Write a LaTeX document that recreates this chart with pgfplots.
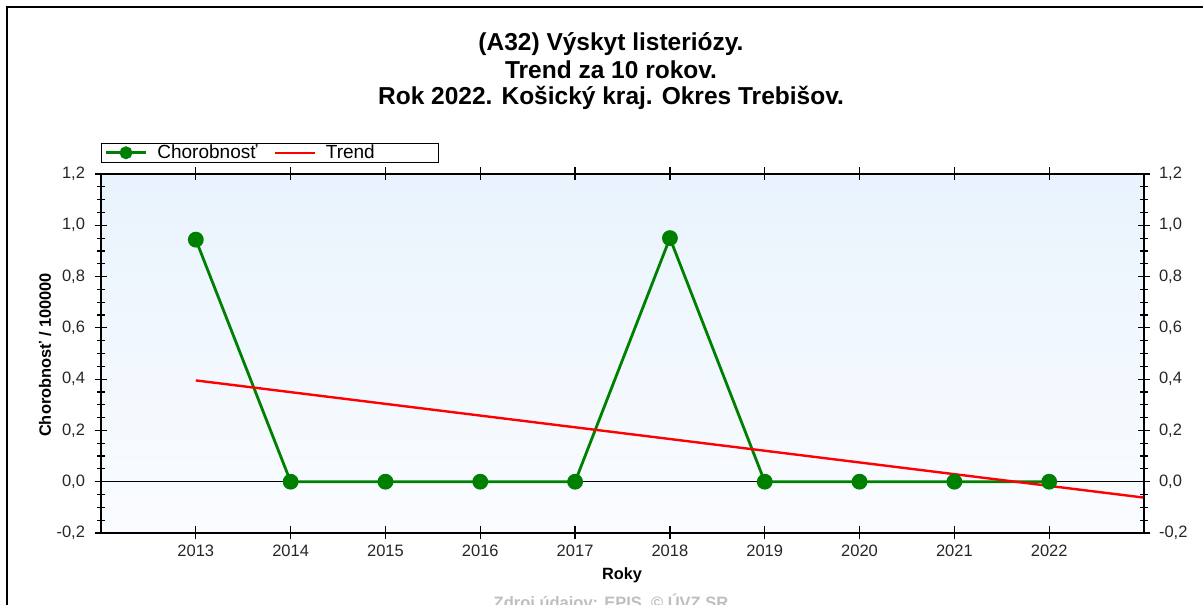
\documentclass[border=0pt]{standalone}
\usepackage{pgfplots}
\pgfplotsset{compat=1.18}
\usepackage{fontspec}
\setmainfont{Liberation Sans}
\definecolor{cgreen}{RGB}{0,128,0}
\definecolor{bgtop}{RGB}{233,243,253}
\definecolor{bgbot}{RGB}{250,252,255}
\definecolor{srcgray}{RGB}{190,190,190}
\begin{document}
\begin{tikzpicture}[x=1pt,y=1pt]
\useasboundingbox (0,0) rectangle (1203,605);
% outer frame
\draw[line width=1.5pt] (7,-20) -- (7,598) -- (1220,598);
% titles
\node[font=\bfseries\fontsize{24.5}{28}\selectfont] at (611,561) {(A32) Výskyt listeriózy.};
\node[font=\bfseries\fontsize{24.5}{28}\selectfont] at (611,535) {Trend za 10 rokov.};
\node[font=\bfseries\fontsize{24.5}{28}\selectfont] at (611,507) {Rok 2022. Košický kraj. Okres Trebišov.};
\node[font=\bfseries\fontsize{16.4}{19}\selectfont, rotate=90] at (45,250) {Chorobnosť / 100000};
\node[font=\bfseries\fontsize{16.3}{19}\selectfont] at (622,30) {Roky};
\node[font=\bfseries\fontsize{16.5}{19}\selectfont, text=srcgray, anchor=base] at (611,-4) {Zdroj údajov: EPIS, © ÚVZ SR};

\pgfplotsset{
  base/.style={
    scale only axis, width=1043pt, height=359pt,
    at={(101pt,72pt)}, anchor=south west,
    xmin=2012, xmax=2023, ymin=-0.2, ymax=1.2,
    ytick={-0.2,0,0.2,0.4,0.6,0.8,1.0,1.2},
    minor y tick num=3,
    tick align=center,
    major tick length=13pt, minor tick length=8pt,
    tick style={black, line width=1.2pt},
    axis line style={line width=1.4pt},
    tick label style={font=\fontsize{16.5}{19}\selectfont, text=black!85},
    /pgf/number format/assume math mode=true,
    yticklabel style={/pgf/number format/fixed, /pgf/number format/fixed zerofill,
        /pgf/number format/precision=1, /pgf/number format/use comma},
  }
}

\begin{axis}[
    base,
    axis background/.style={top color=bgtop, bottom color=bgbot},
    ytick pos=left, xtick pos=both,
    yticklabel style={xshift=-6pt},
    xtick={2013,2014,2015,2016,2017,2018,2019,2020,2021,2022},
    xticklabel style={/pgf/number format/1000 sep={}, yshift=-2pt},
    legend style={at={(0,1)}, anchor=south west, yshift=11pt, draw=black, line width=1.2pt,
        font=\fontsize{19}{21}\selectfont, legend columns=2, inner xsep=3pt, inner ysep=0pt,
        /tikz/every odd column/.append style={column sep=8pt},
        /tikz/every even column/.append style={column sep=14pt}},
    legend cell align=left,
    legend image code/.code={\draw[mark repeat=2,mark phase=2,#1,mark size=5pt] plot coordinates {(0pt,0pt) (20pt,0pt) (40pt,0pt)};},
]
% zero line
\addplot[black, line width=1pt, forget plot] coordinates {(2012,0) (2023,0)};

% Chorobnost
\addplot[cgreen, line width=2.8pt, mark=*, mark size=6.5pt] coordinates {
    (2013, 0.944)
    (2014, 0)
    (2015, 0)
    (2016, 0)
    (2017, 0)
    (2018, 0.950)
    (2019, 0)
    (2020, 0)
    (2021, 0)
    (2022, 0)
};

% Trend
\addplot[red, line width=2.4pt] coordinates {(2013, 0.395) (2023, -0.062)};

\legend{Chorobnosť, \makebox[108pt][l]{Trend}}
\end{axis}

\begin{axis}[
    base,
    axis x line=none, axis y line*=right,
    ytick pos=right, yticklabel pos=right,
    yticklabel style={xshift=5pt},
]
\end{axis}
\end{tikzpicture}
\end{document}
